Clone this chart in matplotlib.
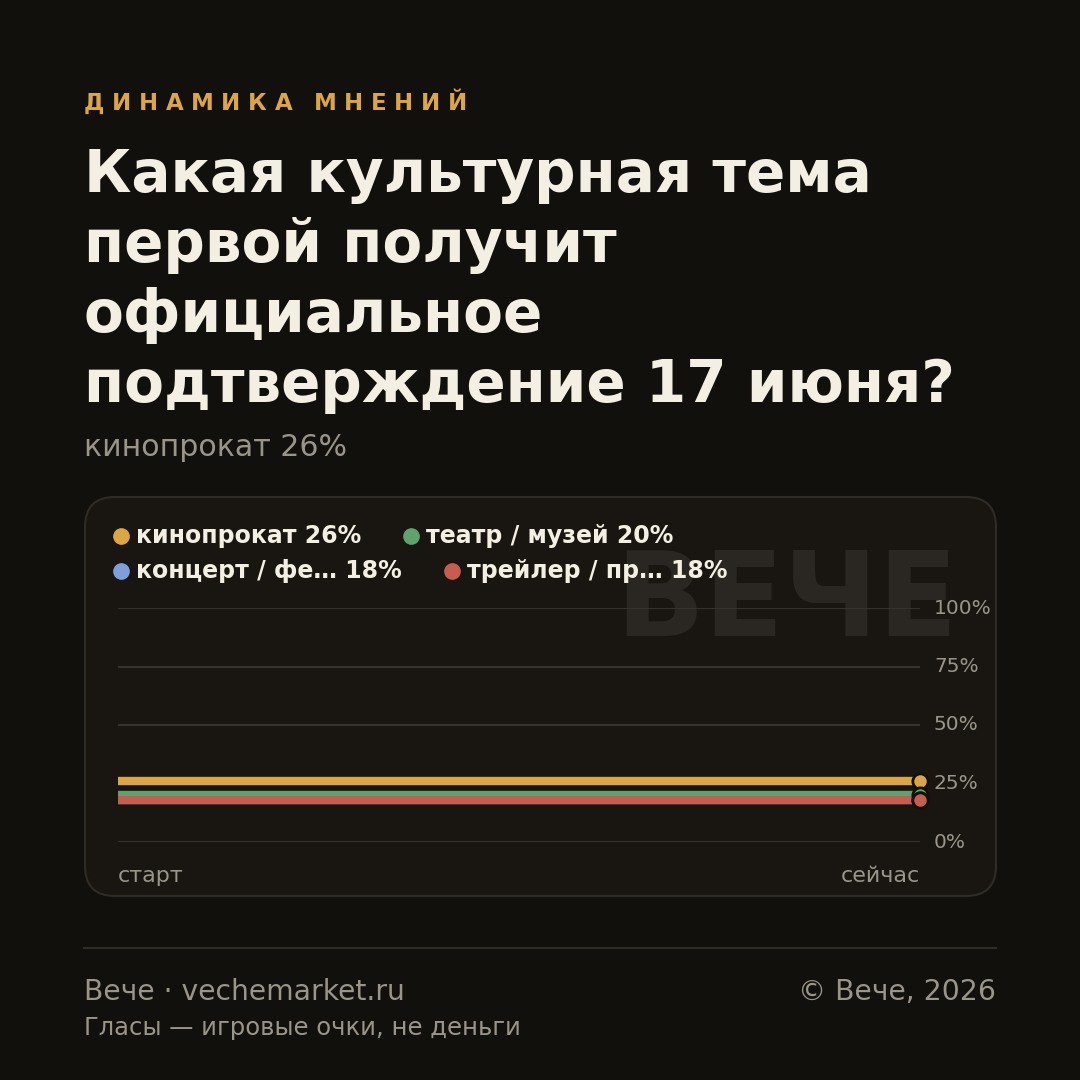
import matplotlib
matplotlib.use("Agg")
import matplotlib.pyplot as plt
from matplotlib.patches import FancyBboxPatch
from matplotlib.lines import Line2D

plt.rcParams['font.family'] = ['DejaVu Sans']

# данные
labels = ['кинопрокат 26%', 'театр / музей 20%', 'концерт / фе… 18%', 'трейлер / пр… 18%']
values = [26, 20, 18, 18]
colors = ['#dca646', '#5fa36c', '#7f9fdc', '#c65d4e']
x_points = [0, 1]
x_labels = ['старт', 'сейчас']
y_ticks = [0, 25, 50, 75, 100]
kicker = 'ДИНАМИКА МНЕНИЙ'
title_lines = ['Какая культурная тема', 'первой получит', 'официальное',
               'подтверждение 17 июня?']

BG = '#12100d'
CARD = '#191612'
EDGE = '#2f2b25'
GRID = '#36322b'
GRAY = '#9a958a'
WHITE = '#f3efe2'

W = H = 1080
fig = plt.figure(figsize=(10.8, 10.8), dpi=100, facecolor=BG)
renderer = fig.canvas.get_renderer()

def fx(px):
    return px / W

def fy(py):
    return 1 - py / H

# надзаголовок с разрядкой
cx = 84
for ch in kicker:
    t = fig.text(fx(cx), fy(110), ch, color='#dca646', fontsize=16.5,
                 fontweight='bold', va='baseline')
    w = t.get_window_extent(renderer).width if ch != ' ' else 6
    cx += w + 7.6

for i, line in enumerate(title_lines):
    fig.text(fx(84), fy(192 + i * 70), line, color=WHITE, fontsize=41.8,
             fontweight='bold', va='baseline')
fig.text(fx(84), fy(456), 'кинопрокат 26%', color=GRAY, fontsize=21.6, va='baseline')

# карточка
card = FancyBboxPatch((fx(85), fy(896)), fx(996 - 85), (896 - 497) / H,
                      boxstyle='round,pad=0,rounding_size=%f' % (30 / W),
                      transform=fig.transFigure, facecolor=CARD, edgecolor=EDGE,
                      linewidth=1.5, zorder=0)
fig.patches.append(card)

# водяной знак
fig.text(fx(958), fy(636), 'ВЕЧЕ', color='#2a2621', fontsize=84,
         fontweight='bold', ha='right', va='baseline', zorder=1)

# легенда
leg_pos = [(121, 536), (411, 536), (121, 571), (452, 571)]
for (lx, ly), lab, c in zip(leg_pos, labels, colors):
    fig.lines.append(Line2D([fx(lx)], [fy(ly)], marker='o', markersize=11,
                            color=c, transform=fig.transFigure, zorder=3))
    fig.text(fx(lx + 15), fy(ly), lab, color=WHITE, fontsize=17,
             fontweight='bold', va='center', zorder=3)

# график
ax = fig.add_axes([fx(118), fy(842), fx(920 - 118), 234 / H])
ax.set_zorder(2)
ax.set_facecolor('none')
ax.set_xlim(0, 1)
ax.set_ylim(0, 100)
for t in y_ticks:
    ax.axhline(t, color=GRID, lw=1.5, zorder=1)
    ax.text(1.0 + 14 / 802, t, '%d%%' % t, transform=ax.get_yaxis_transform(),
            color=GRAY, fontsize=14.5, va='center', ha='left')

for v, c in zip(values, colors):
    ax.plot(x_points, [v, v], color=c, lw=6, solid_capstyle='butt', zorder=2)
for v, c in zip(values, colors):
    ax.plot([x_points[-1]], [v], marker='o', markersize=11, color=c,
            markeredgecolor='#12100d', markeredgewidth=2, clip_on=False, zorder=4)

ax.set_xticks([])
ax.set_yticks([])
for s in ax.spines.values():
    s.set_visible(False)

fig.text(fx(118), fy(876), x_labels[0], color=GRAY, fontsize=16, va='center', ha='left')
fig.text(fx(920), fy(876), x_labels[1], color=GRAY, fontsize=16, va='center', ha='right')

# подвал
fig.lines.append(Line2D([fx(84), fx(996)], [fy(948), fy(948)], color=EDGE, lw=1.5,
                        transform=fig.transFigure))
fig.text(fx(84), fy(1000), 'Вече · vechemarket.ru', color=GRAY, fontsize=20.3, va='baseline')
fig.text(fx(996), fy(1000), '© Вече, 2026', color=GRAY, fontsize=20.3, va='baseline', ha='right')
fig.text(fx(84), fy(1035), 'Гласы — игровые очки, не деньги', color=GRAY, fontsize=17.5,
         va='baseline')

fig.savefig('out.png', dpi=100, facecolor=BG)
